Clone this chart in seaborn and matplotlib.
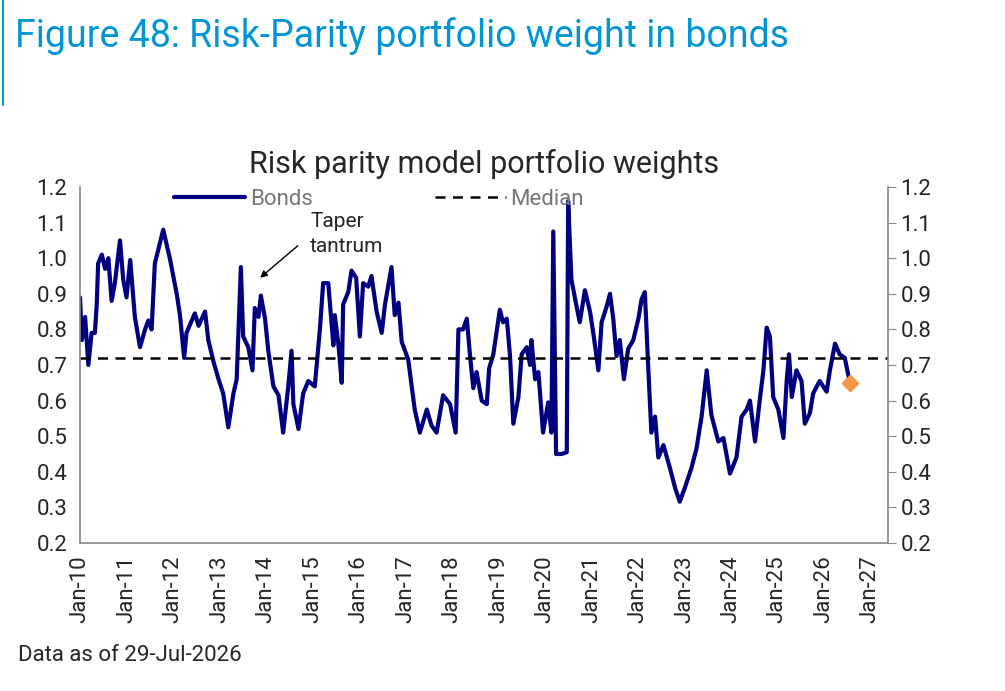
import matplotlib
matplotlib.use("Agg")
import matplotlib.pyplot as plt
import seaborn as sns
import pandas as pd

# decimal years and bond weights
years = [2010.00, 2010.04, 2010.11, 2010.18, 2010.25, 2010.32, 2010.36, 2010.39, 2010.47, 2010.54,
         2010.61, 2010.68, 2010.75, 2010.86, 2010.93, 2011.00, 2011.08, 2011.18, 2011.29, 2011.40,
         2011.47, 2011.54, 2011.61, 2011.79, 2011.94, 2012.08, 2012.15, 2012.24, 2012.29, 2012.47,
         2012.55, 2012.69, 2012.76, 2012.87, 2012.98, 2013.08, 2013.19, 2013.30, 2013.37, 2013.46,
         2013.51, 2013.62, 2013.71, 2013.76, 2013.84, 2013.89, 2013.98, 2014.05, 2014.16, 2014.27,
         2014.37, 2014.48, 2014.55, 2014.59, 2014.70, 2014.80, 2014.91, 2015.05, 2015.16, 2015.23,
         2015.34, 2015.45, 2015.48, 2015.56, 2015.63, 2015.66, 2015.77, 2015.84, 2015.94, 2016.02,
         2016.09, 2016.20, 2016.27, 2016.38, 2016.49, 2016.56, 2016.70, 2016.77, 2016.85, 2016.92,
         2017.06, 2017.13, 2017.20, 2017.31, 2017.46, 2017.56, 2017.67, 2017.81, 2017.96, 2018.08,
         2018.14, 2018.24, 2018.32, 2018.39, 2018.46, 2018.53, 2018.64, 2018.75, 2018.80, 2018.89,
         2019.03, 2019.10, 2019.18, 2019.25, 2019.32, 2019.43, 2019.50, 2019.61, 2019.68, 2019.71,
         2019.79, 2019.86, 2019.96, 2020.07, 2020.14, 2020.18, 2020.24, 2020.36, 2020.47, 2020.50,
         2020.57, 2020.68, 2020.75, 2020.86, 2020.97, 2021.04, 2021.15, 2021.22, 2021.33, 2021.40,
         2021.47, 2021.54, 2021.61, 2021.70, 2021.79, 2021.90, 2022.01, 2022.08, 2022.15, 2022.22,
         2022.29, 2022.37, 2022.44, 2022.55, 2022.69, 2022.80, 2022.90, 2023.01, 2023.15, 2023.26,
         2023.37, 2023.48, 2023.58, 2023.73, 2023.84, 2023.98, 2024.12, 2024.23, 2024.34, 2024.41,
         2024.52, 2024.62, 2024.70, 2024.77, 2024.84, 2024.91, 2025.02, 2025.13, 2025.20, 2025.25,
         2025.31, 2025.41, 2025.52, 2025.59, 2025.70, 2025.77, 2025.91, 2026.06, 2026.13, 2026.24,
         2026.34, 2026.45, 2026.56]
bonds = [0.89, 0.77, 0.835, 0.70, 0.79, 0.79, 0.87, 0.985, 1.01, 0.97,
         1.00, 0.88, 0.93, 1.05, 0.94, 0.89, 0.995, 0.835, 0.75, 0.80,
         0.825, 0.80, 0.985, 1.08, 0.995, 0.90, 0.84, 0.72, 0.79, 0.845,
         0.81, 0.85, 0.77, 0.71, 0.66, 0.62, 0.525, 0.62, 0.66, 0.975,
         0.78, 0.75, 0.685, 0.86, 0.835, 0.895, 0.83, 0.74, 0.64, 0.615,
         0.51, 0.64, 0.74, 0.59, 0.52, 0.62, 0.655, 0.64, 0.80, 0.93,
         0.93, 0.755, 0.84, 0.755, 0.65, 0.87, 0.905, 0.965, 0.945, 0.78,
         0.93, 0.92, 0.95, 0.85, 0.79, 0.87, 0.975, 0.84, 0.875, 0.765,
         0.715, 0.645, 0.575, 0.51, 0.575, 0.53, 0.51, 0.615, 0.59, 0.51,
         0.80, 0.80, 0.83, 0.725, 0.635, 0.68, 0.60, 0.59, 0.69, 0.73,
         0.855, 0.82, 0.83, 0.725, 0.535, 0.61, 0.73, 0.75, 0.70, 0.77,
         0.66, 0.68, 0.51, 0.595, 0.51, 1.075, 0.45, 0.45, 0.455, 1.16,
         0.94, 0.865, 0.82, 0.91, 0.85, 0.79, 0.685, 0.82, 0.865, 0.90,
         0.83, 0.725, 0.77, 0.66, 0.745, 0.77, 0.83, 0.885, 0.905, 0.70,
         0.51, 0.555, 0.44, 0.475, 0.41, 0.355, 0.316, 0.355, 0.41, 0.465,
         0.555, 0.685, 0.56, 0.485, 0.495, 0.395, 0.44, 0.555, 0.575, 0.60,
         0.485, 0.60, 0.685, 0.805, 0.78, 0.61, 0.575, 0.495, 0.655, 0.73,
         0.61, 0.685, 0.655, 0.535, 0.565, 0.62, 0.655, 0.625, 0.685, 0.76,
         0.73, 0.72, 0.65]
median = 0.72
latest_year = 2026.56
latest_value = 0.65
tick_years = list(range(2010, 2028))
tick_labels = [f"Jan-{y % 100:02d}" for y in tick_years]

df = pd.DataFrame({"year": years, "weight": bonds})

sns.set_style("white")
plt.rcParams["font.family"] = ["Roboto", "DejaVu Sans"]

fig = plt.figure(figsize=(10.05, 6.91), dpi=100)
ax = fig.add_axes([0.0796, 0.2142, 0.804, 0.5152])

sns.lineplot(data=df, x="year", y="weight", ax=ax, color="#000080", lw=3, sort=False, label="Bonds")
ax.axhline(median, color="black", ls=(0, (4, 3)), lw=1.8, label="Median")
ax.scatter([latest_year], [latest_value], marker="D", s=70, color="#f79646", zorder=5)

ax.set_xlim(2010, 2027.38)
ax.set_ylim(0.2, 1.2)
ax.set_xticks(tick_years)
ax.set_xticklabels(tick_labels, rotation=90, fontsize=16)
ax.set_yticks([0.2 + 0.1 * i for i in range(11)])
ax.set_yticklabels([f"{0.2 + 0.1 * i:.1f}" for i in range(11)], fontsize=16)
ax.set_xlabel("")
ax.set_ylabel("")
ax.tick_params(axis="both", length=6, color="#888888", direction="out", pad=3)
ax.tick_params(axis="y", labelright=True, right=True)
ax.spines["top"].set_visible(False)
for s in ["left", "right", "bottom"]:
    ax.spines[s].set_color("#888888")
    ax.spines[s].set_linewidth(1.2)

leg = ax.legend(loc="upper center", bbox_to_anchor=(0.37, 1.05), ncol=2, frameon=False,
                fontsize=16, columnspacing=5.5, handlelength=3.2, handletextpad=0.2)
for t in leg.get_texts():
    t.set_color("#777777")

ax.annotate("", xy=(2013.83, 0.94), xytext=(2014.73, 1.04),
            arrowprops=dict(arrowstyle="-|>", color="black", lw=1))
ax.text(2014.95, 1.13, "Taper\ntantrum", fontsize=15, va="top", ha="left", linespacing=1.4)
ax.set_title("Risk parity model portfolio weights", fontsize=22, pad=10)

fig.text(0.015, 0.975, "Figure 48: Risk-Parity portfolio weight in bonds", fontsize=27,
         color="#0096d6", va="top", ha="left")
fig.add_artist(plt.Line2D([0.003, 0.003], [1.0, 0.848], color="#0096d6", lw=1.5))
fig.text(0.018, 0.052, "Data as of 29-Jul-2026", fontsize=16, va="center", ha="left")

fig.savefig("out.png", dpi=100)
